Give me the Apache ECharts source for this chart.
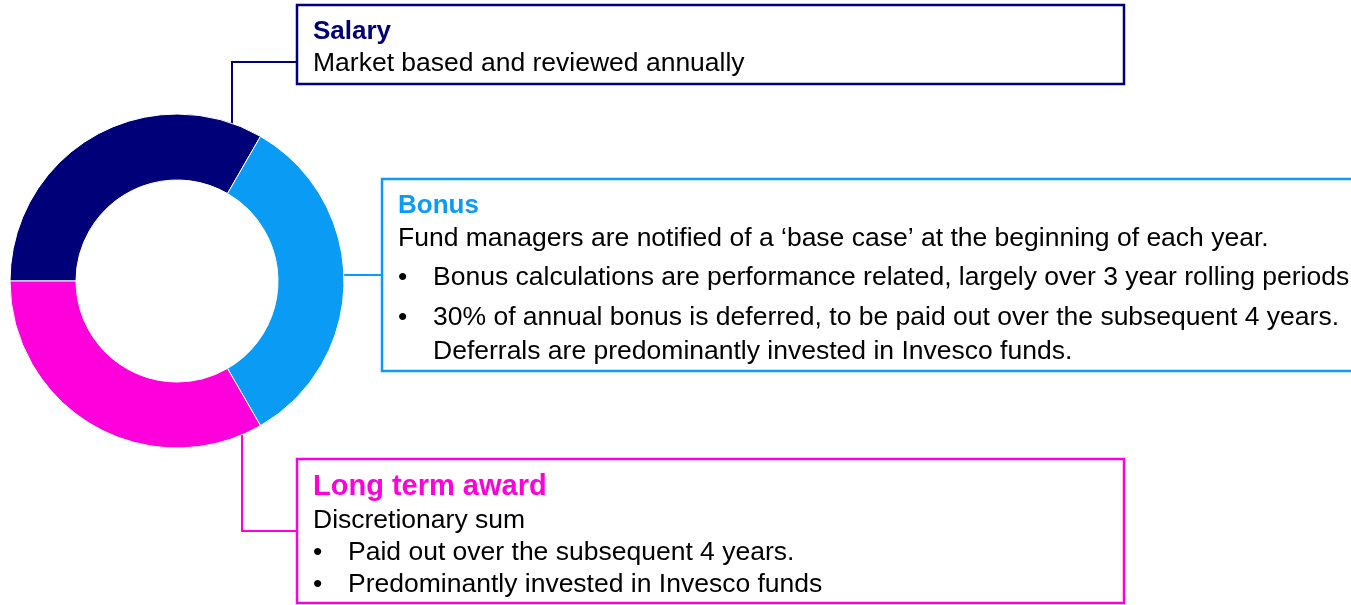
<!DOCTYPE html>
<html>
<head>
<meta charset="utf-8">
<script src="https://cdn.jsdelivr.net/npm/echarts@6/dist/echarts.min.js"></script>
<style>
  html, body { margin: 0; padding: 0; background: #fff; }
  #main { width: 1351px; height: 605px; }
</style>
</head>
<body>
<div id="main"></div>
<script>
// pay components - three equal parts of the donut
var categories = ['Salary', 'Bonus', 'Long term award']
var shares = [1, 1, 1]
var colors = ['#000078', '#0a9bf5', '#ff00dd']

// text in the boxes
var salaryLines = ['Market based and reviewed annually']
var bonusIntro = 'Fund managers are notified of a \u2018base case\u2019 at the beginning of each year.'
var bonusBullets = [
  'Bonus calculations are performance related, largely over 3 year rolling periods',
  '30% of annual bonus is deferred, to be paid out over the subsequent 4 years.'
]
var bonusExtra = 'Deferrals are predominantly invested in Invesco funds.'
var longIntro = 'Discretionary sum'
var longBullets = ['Paid out over the subsequent 4 years.', 'Predominantly invested in Invesco funds']

var chart = echarts.init(document.getElementById('main'))
var FONT = '"Liberation Sans", Arial, sans-serif'

function txt (x, y, s, opt) {
  opt = opt || {}
  return {
    type: 'text',
    x: x,
    y: y,
    z: 10,
    style: {
      text: s,
      fontFamily: FONT,
      fontSize: opt.size || 26.5,
      fontWeight: opt.bold ? 'bold' : 'normal',
      fill: opt.color || '#000',
      textVerticalAlign: 'middle'
    }
  }
}
function box (x, y, w, h, c) {
  return {
    type: 'rect',
    shape: { x: x, y: y, width: w, height: h },
    style: { fill: '#fff', stroke: c, lineWidth: 2.5 }
  }
}
function line (pts, c) {
  return {
    type: 'polyline',
    shape: { points: pts },
    style: { stroke: c, lineWidth: 2, fill: null }
  }
}

var g = []
// connectors
g.push(line([[232, 124], [232, 62], [297, 62]], colors[0]))
g.push(line([[343, 275], [382, 275]], colors[1]))
g.push(line([[242, 426], [242, 531], [297, 531]], colors[2]))
// boxes
g.push(box(297, 5, 827, 79, colors[0]))
g.push(box(382, 179, 980, 192, colors[1]))
g.push(box(297, 459, 827, 144, colors[2]))

// salary
g.push(txt(313, 32, categories[0], { bold: true, color: colors[0], size: 26 }))
salaryLines.forEach(function (s, i) { g.push(txt(313, 64 + i * 32, s)) })

// bonus
g.push(txt(398, 206, categories[1], { bold: true, color: colors[1], size: 26 }))
g.push(txt(398, 239, bonusIntro))
var by = [278, 318]
bonusBullets.forEach(function (s, i) {
  g.push(txt(398, by[i], '\u2022'))
  g.push(txt(433, by[i], s))
})
g.push(txt(433, 352, bonusExtra))

// long term award
g.push(txt(313, 487, categories[2], { bold: true, color: colors[2], size: 29 }))
g.push(txt(313, 521, longIntro))
var ly = [553, 585]
longBullets.forEach(function (s, i) {
  g.push(txt(313, ly[i], '\u2022'))
  g.push(txt(348, ly[i], s))
})

chart.setOption({
  animation: false,
  color: colors,
  series: [
    {
      type: 'pie',
      center: [177, 281],
      radius: [101, 167],
      startAngle: 180,
      clockwise: true,
      silent: true,
      label: { show: false },
      labelLine: { show: false },
      itemStyle: { borderColor: '#fff', borderWidth: 1 },
      data: categories.map(function (name, i) {
        return { name: name, value: shares[i] }
      })
    }
  ],
  graphic: g
})
</script>
</body>
</html>
